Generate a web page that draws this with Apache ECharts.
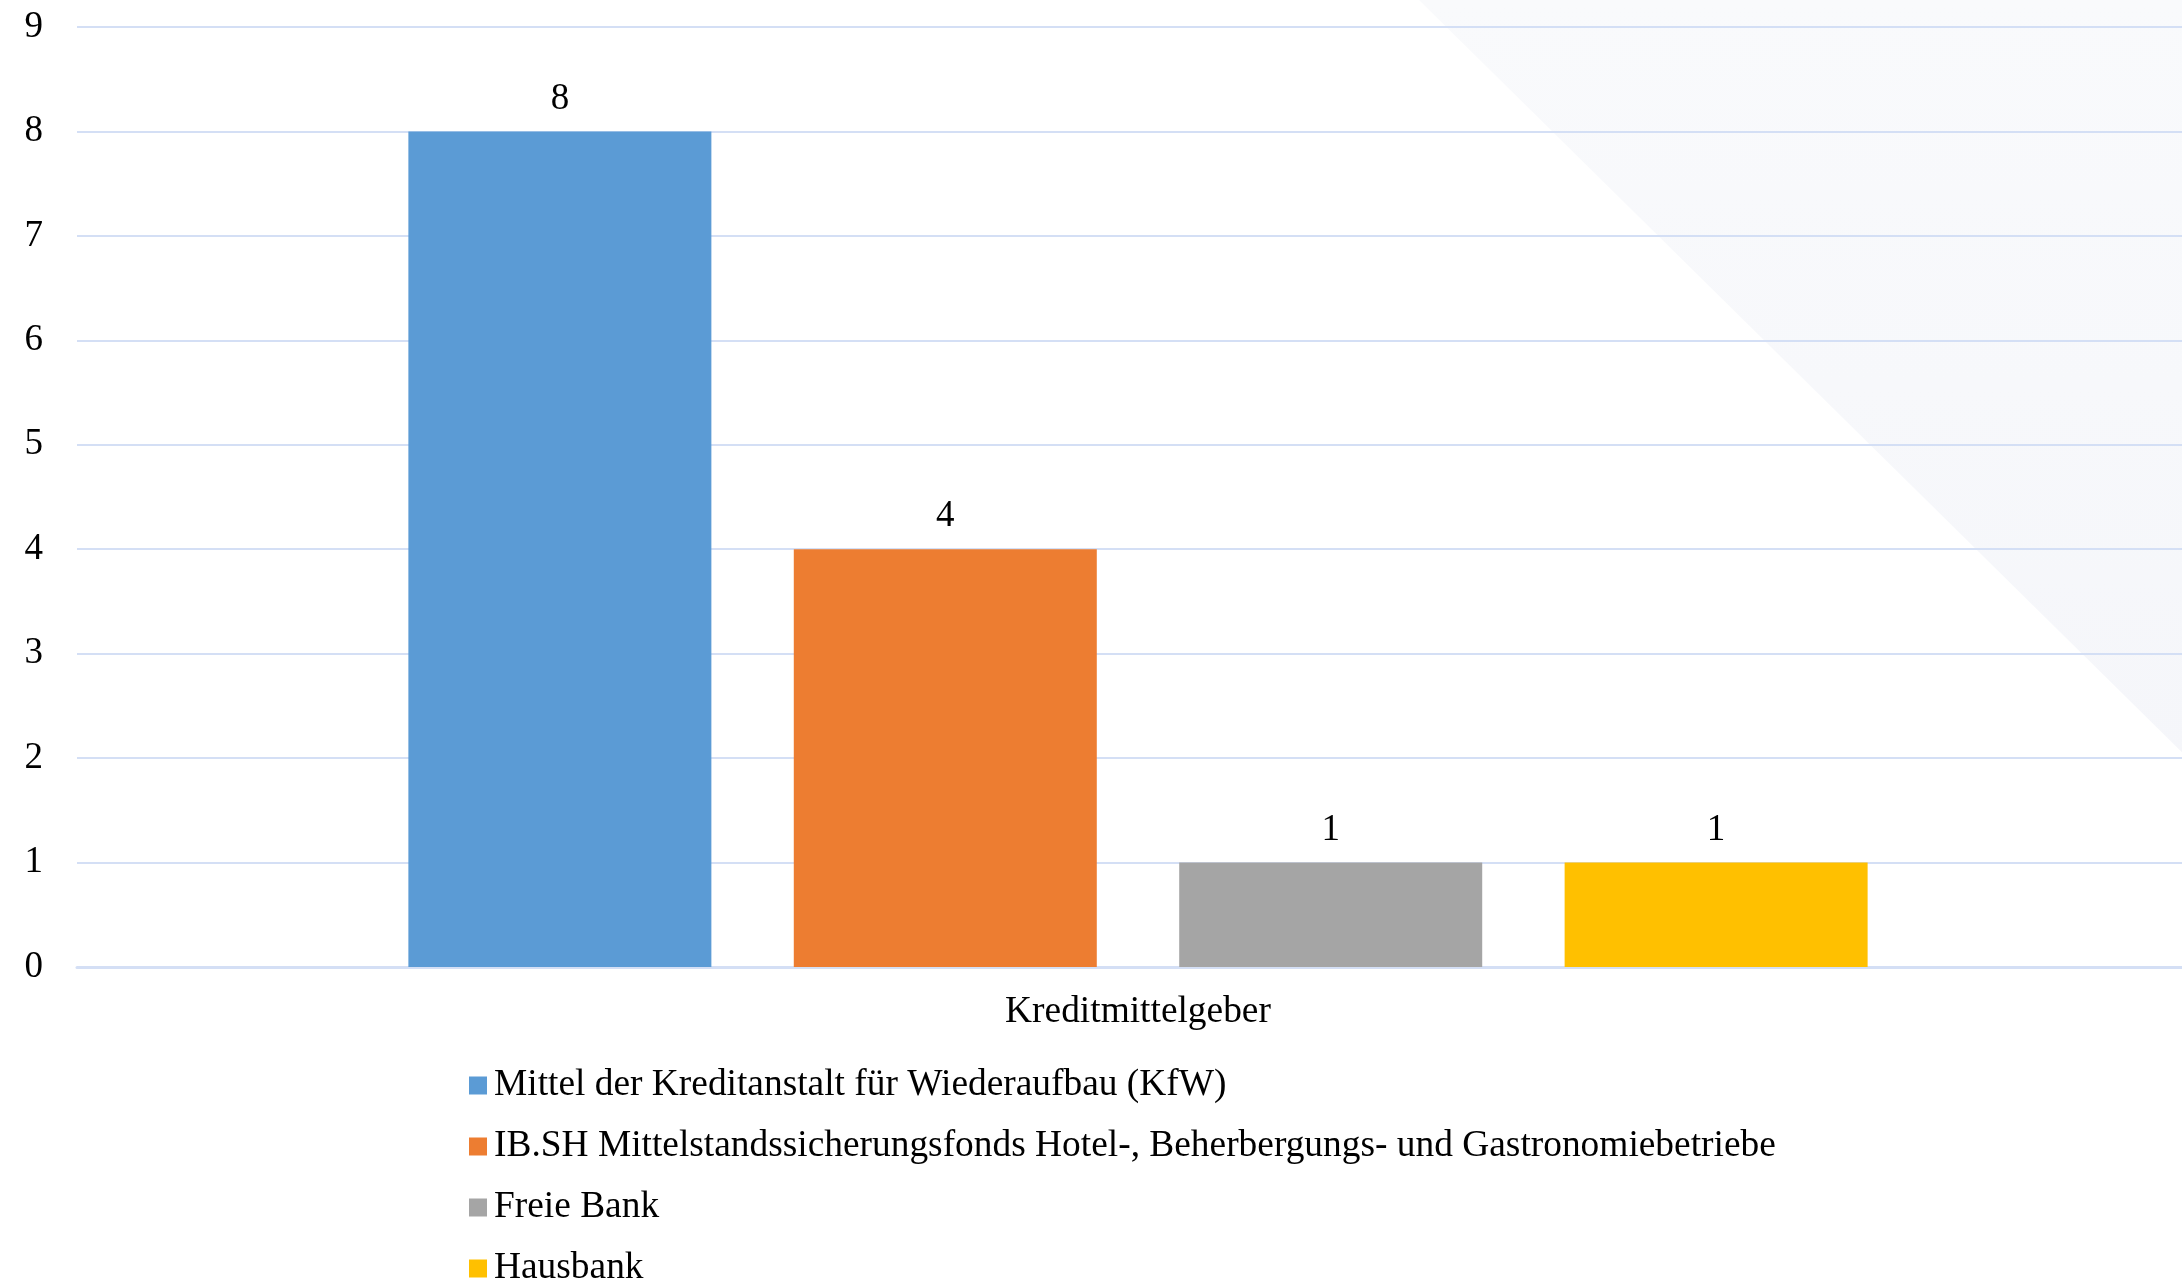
<!DOCTYPE html>
<html lang="de">
<head>
<meta charset="utf-8">
<title>Kreditmittelgeber</title>
<script src="https://cdn.jsdelivr.net/npm/echarts@6/dist/echarts.min.js"></script>
<style>
  html, body { margin: 0; padding: 0; background: #ffffff; overflow: hidden; }
  /* etwas breiter als das Fenster: die Zeichenfläche läuft rechts aus dem Bild */
  #chart { width: 2199px; height: 1283px; }
</style>
</head>
<body>
<div id="chart"></div>
<script>
// Daten
const categories = ['Kreditmittelgeber']
const seriesNames = [
  'Mittel der Kreditanstalt für Wiederaufbau (KfW)',
  'IB.SH Mittelstandssicherungsfonds Hotel-, Beherbergungs- und Gastronomiebetriebe',
  'Freie Bank',
  'Hausbank'
]
const kfwValues = [8]
const ibshValues = [4]
const freieBankValues = [1]
const hausbankValues = [1]
const yTicks = [0, 1, 2, 3, 4, 5, 6, 7, 8, 9]

const colors = ['#5b9bd5', '#ed7d31', '#a5a5a5', '#ffc000']
const fontFamily = "'Liberation Serif', 'Times New Roman', serif"
const gridColor = '#d4dff5'

const chart = echarts.init(document.getElementById('chart'))

// eine Serie je Kreditgeber
const makeSeries = (name, data, color) => ({
  name: name,
  type: 'bar',
  data: data,
  barWidth: 303,
  barGap: '27.2%',
  itemStyle: { color: color },
  label: {
    show: true,
    position: 'top',
    distance: 14,
    color: '#000',
    fontFamily: fontFamily,
    fontSize: 37
  }
})

const option = {
  animation: false,
  backgroundColor: '#ffffff',
  textStyle: { fontFamily: fontFamily },
  // dezentes Dreieck oben rechts
  graphic: [{
    type: 'polygon',
    z: -10,
    silent: true,
    shape: { points: [[1419, 0], [2199, 0], [2199, 769]] },
    style: {
      fill: new echarts.graphic.LinearGradient(0, 0, 0, 1, [
        { offset: 0, color: '#f9fafc' },
        { offset: 1, color: '#f5f6fa' }
      ])
    }
  }],
  grid: {
    left: 77,
    right: 0,
    top: 27,
    height: 940,
    containLabel: false
  },
  legend: {
    orient: 'vertical',
    left: 464,
    top: 1062,
    height: 400,
    itemWidth: 18,
    itemHeight: 18,
    itemGap: 24,
    icon: 'rect',
    data: seriesNames,
    textStyle: {
      color: '#000',
      fontFamily: fontFamily,
      fontSize: 37.4,
      padding: [0, 0, 0, 2]
    }
  },
  xAxis: {
    type: 'category',
    data: categories,
    axisTick: { show: false },
    axisLine: { lineStyle: { color: gridColor, width: 3 } },
    axisLabel: {
      color: '#000',
      fontFamily: fontFamily,
      fontSize: 37.4,
      margin: 27
    }
  },
  yAxis: {
    type: 'value',
    min: yTicks[0],
    max: yTicks[yTicks.length - 1],
    interval: 1,
    axisLine: { show: false },
    axisTick: { show: false },
    axisLabel: {
      color: '#000',
      fontFamily: fontFamily,
      fontSize: 37,
      margin: 34,
      padding: [4, 0, 0, 0]
    },
    splitLine: { lineStyle: { color: gridColor, width: 2 } }
  },
  series: [
    makeSeries(seriesNames[0], kfwValues, colors[0]),
    makeSeries(seriesNames[1], ibshValues, colors[1]),
    makeSeries(seriesNames[2], freieBankValues, colors[2]),
    makeSeries(seriesNames[3], hausbankValues, colors[3])
  ]
}

chart.setOption(option)
</script>
</body>
</html>
